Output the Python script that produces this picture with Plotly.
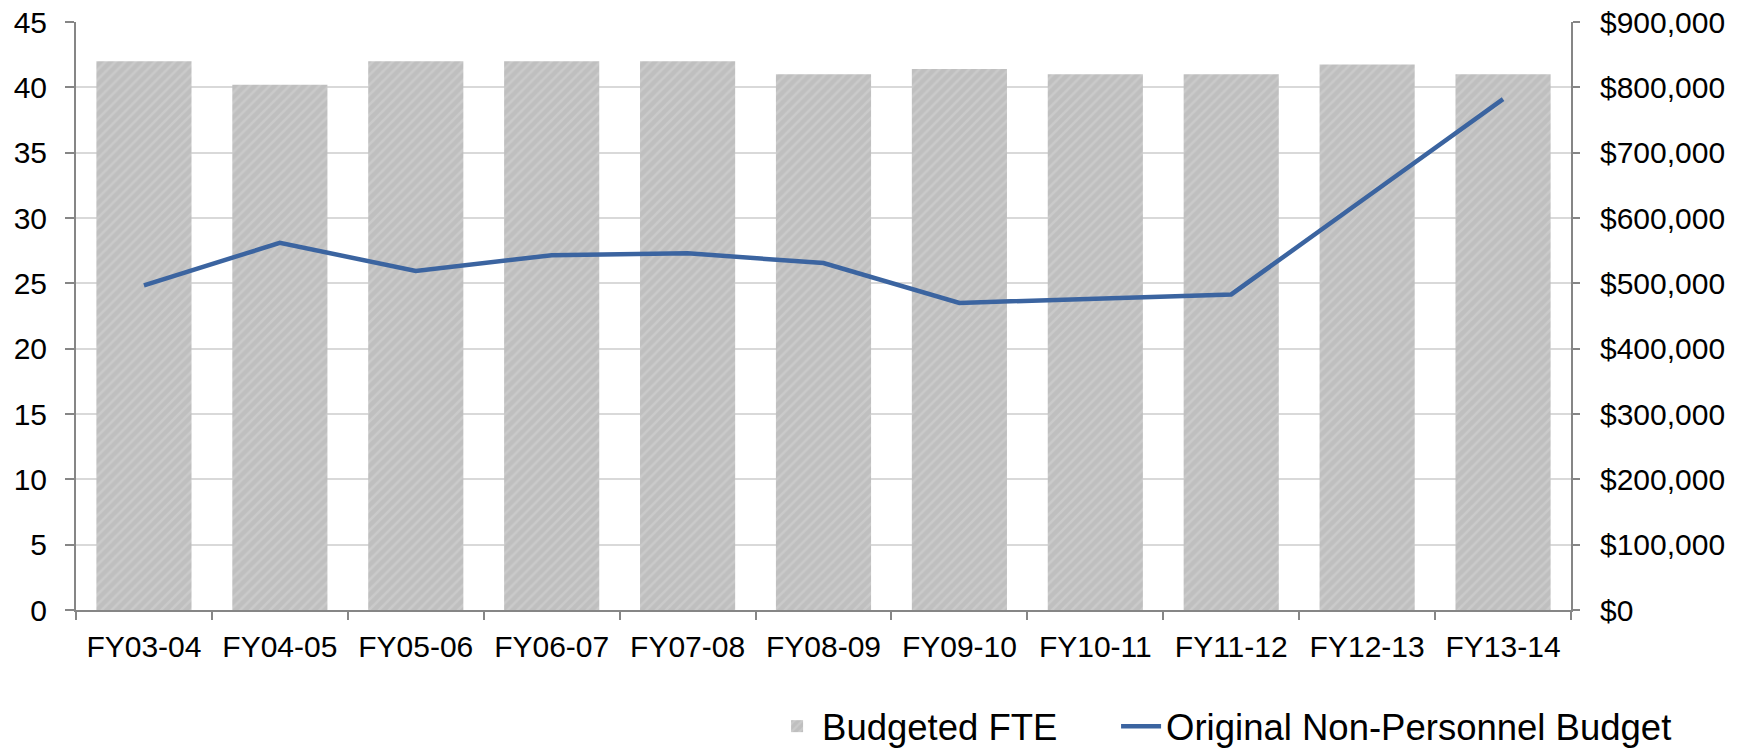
import plotly.graph_objects as go

categories = ["FY03-04", "FY04-05", "FY05-06", "FY06-07", "FY07-08", "FY08-09",
              "FY09-10", "FY10-11", "FY11-12", "FY12-13", "FY13-14"]
budgeted_fte = [42, 40.2, 42, 42, 42, 41, 41.4, 41, 41, 41.75, 41]
non_personnel_budget = [497000, 562000, 519000, 543000, 546000, 531000,
                        470000, 476000, 483000, 632500, 782000]

AXIS = "#868686"
FONT = "Liberation Sans, Arial, sans-serif"

fig = go.Figure()
fig.add_trace(go.Bar(
    x=categories, y=budgeted_fte, name="Budgeted FTE",
    marker=dict(color="#c0c0c0", line=dict(width=0),
                pattern=dict(shape="/", fgcolor="#d6d6d6", bgcolor="#bfbfbf",
                             size=7, solidity=0.35)),
    legendwidth=289,
    yaxis="y",
))
fig.add_trace(go.Scatter(
    x=categories, y=non_personnel_budget, name="Original Non-Personnel Budget",
    mode="lines", line=dict(color="#3b64a0", width=4.5),
    yaxis="y2",
))

fig.update_layout(
    width=1750, height=750,
    margin=dict(l=76, r=179, t=22, b=140, autoexpand=False),
    paper_bgcolor="white", plot_bgcolor="white",
    font=dict(family=FONT, size=30, color="#000000"),
    bargap=0.3,
    showlegend=True,
    legend=dict(orientation="h", x=0.4656, xanchor="left", y=-0.198, yanchor="middle",
                font=dict(size=36.5, family=FONT), itemwidth=40, traceorder="normal"),
    xaxis=dict(
        showgrid=False, showline=True, linecolor=AXIS, linewidth=2,
        ticks="outside", tickson="boundaries", ticklen=8, tickcolor=AXIS, tickwidth=2,
        tickfont=dict(size=30), ticklabelstandoff=9, fixedrange=True, automargin=False,
        ticklabeloverflow="allow",
    ),
    yaxis=dict(
        range=[0, 45], dtick=5, showgrid=True, gridcolor="#d9d9d9", gridwidth=2,
        showline=True, linecolor=AXIS, linewidth=2, zeroline=False,
        ticks="outside", ticklen=9, tickcolor=AXIS, tickwidth=2,
        tickfont=dict(size=30), ticklabelstandoff=12, automargin=False,
        ticklabeloverflow="allow",
    ),
    yaxis2=dict(
        range=[0, 900000], dtick=100000, overlaying="y", side="right",
        showgrid=False, showline=True, linecolor=AXIS, linewidth=2, zeroline=False,
        ticks="outside", ticklen=7, tickcolor=AXIS, tickwidth=2,
        tickformat="$,.0f", tickfont=dict(size=30), ticklabelstandoff=14, automargin=False,
        ticklabeloverflow="allow",
    ),
)

fig.write_html("out.html", config={"displayModeBar": False},
               post_script="document.body.style.margin='0';")
